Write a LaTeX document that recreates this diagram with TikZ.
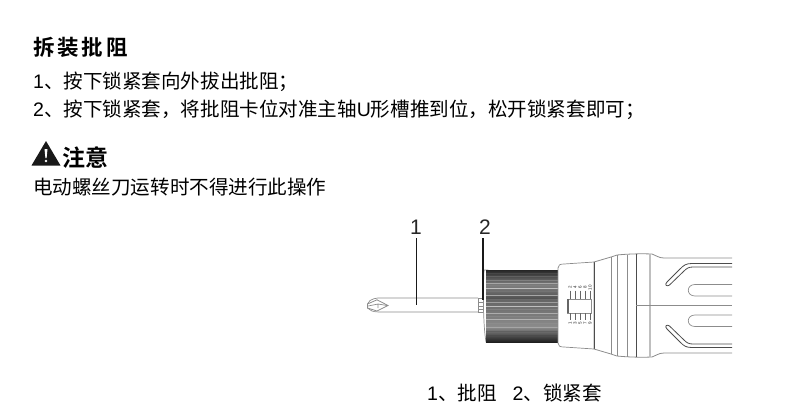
\documentclass[tikz,border=0pt]{standalone}
\usepackage{fontspec}
\setmainfont{Liberation Sans}
\newfontfamily\cjk{Noto Sans CJK SC}
\newfontfamily\cjkb{Noto Sans CJK SC}[BoldFont={Noto Sans CJK SC Bold}]
\newcommand{\ltn}[1]{{\rmfamily #1}}
\begin{document}
\begin{tikzpicture}[x=1pt,y=-1pt,
  body/.style={anchor=west,inner sep=0pt,text=black,font=\fontsize{19.55}{21}\cjk},
  head/.style={anchor=west,inner sep=0pt,text=black,font=\fontsize{21.5}{24}\cjkb\bfseries},
  num/.style={inner sep=0pt,text=black!85,font=\fontsize{21}{23}\selectfont},
  leader/.style={line width=1.7pt,black!90},
  outl/.style={line width=.7pt,black!45},
  dark/.style={line width=.8pt,black!70},
  pale/.style={line width=1.4pt,black!25}]
\useasboundingbox (0,0) rectangle (800,416);
% texts
\node[head] (t1) at (33,47) {拆\hspace{2.8pt}装\hspace{2.8pt}批\hspace{2.8pt}阻};
\node[body] (l1) at (33,82) {\ltn{1}、按下锁紧套向外拔出批阻；};
\node[body] (l2) at (33,110) {\ltn{2}、按下锁紧套，将批阻卡位对准主轴\ltn{U}形槽推到位，松开锁紧套即可；};
\fill[black!90] (46,141) -- (60.5,165.5) -- (31.5,165.5) -- cycle;
\fill[white] (44.5,149) -- (47.5,149) -- (46.6,158) -- (45.4,158) -- cycle;
\fill[white] (46,161) circle (1.4);
\node[head,font=\fontsize{23}{25}\cjkb\bfseries] (t2) at (62.5,158) {注意};
\node[body] (l3) at (33,187) {电动螺丝刀运转时不得进行此操作};
\node[num] (n1) at (416,227) {1};
\node[num] (n2) at (485,227) {2};
\node[body] (cap) at (427,393) {\ltn{1}、批阻\hspace{16pt}\ltn{2}、锁紧套};
% bit
\draw[outl,fill=white] (478,298) -- (385,298) -- (378,298) .. controls (375,298) and (373,299) .. (370,300.5)
  -- (367.5,304) -- (367.5,308) -- (372,311) .. controls (375,312) and (378,312) .. (385,312) -- (478,312);
\draw[outl,line width=.8pt] (367.5,304) -- (377,299.8) -- (388,305.5) -- (377,311) -- (367.5,308);
\draw[outl] (368,306) -- (378,304) -- (387,305.5) (378,304) -- (378,308);
\draw[outl,fill=white] (478,298) rectangle (483,312);
\draw[outl] (478,302) -- (483,302) (478,306) -- (483,306) (478,309) -- (483,309);
\draw[outl,fill=white] (484,270) .. controls (483,290) and (483,325) .. (486,342) -- (488,342) -- (488,270) -- cycle;
% chuck
\begin{scope}
\fill[black!55] (486,270) rectangle (559,342);
\shade[top color=black!85,bottom color=black!50] (486,270) rectangle (559,285);
\shade[top color=black!50,bottom color=black!70] (486,285) rectangle (559,300);
\shade[top color=black!60,bottom color=black!45] (486,300) rectangle (559,327);
\shade[top color=black!45,bottom color=black!88] (486,327) rectangle (559,342);
\foreach \y/\c in {273/72,276/62,280/50,283/35,288/25,291/55,295/35,299/58,302/38,306/25,309/50,313/32,316/48,319/30,323/45,327/35,331/62,335/70}
  \draw[line width=.8pt,black!\c] (486,\y) -- (559,\y);
\end{scope}
% body
\draw[outl,fill=white] (594,262) -- (564,264) .. controls (560,264) and (558,265) .. (558,268) -- (558,343)
  .. controls (558,346) and (560,347) .. (564,347) -- (594,349) -- cycle;
\draw[dark] (594,262) -- (594,349);
\draw[outl,line width=.8pt] (594,262) -- (611,257) -- (617,255) .. controls (627,254) and (640,253.5) .. (652,254)
  .. controls (656,255) and (658,258) .. (664,258) -- (732,258);
\draw[outl,line width=.8pt] (594,349) -- (611,354) -- (617,356) .. controls (627,357) and (640,357.5) .. (652,357)
  .. controls (656,356) and (658,353) .. (664,353) -- (732,353);
\draw[outl] (611,257) -- (611,354) (617,255) -- (617,356) (627,254.5) -- (627,356.5);
\draw[dark] (636,254) -- (636,357);
\draw[pale] (650,254) -- (650,357);
\draw[outl] (636,305.5) -- (732,305.5);
% slots
\draw[dark] (732,263.5) -- (692,263.5) .. controls (686,263.5) and (684,265) .. (680,269) -- (667,282)
  .. controls (664,285) and (667,287) .. (669.5,285) -- (684,271) .. controls (687,268) and (689,267) .. (693,267) -- (732,267);
\draw[outl] (732,284.5) -- (695,284.5) .. controls (686,284.5) and (686,296) .. (695,296) -- (732,296);
\draw[dark] (732,347.5) -- (692,347.5) .. controls (686,347.5) and (684,346) .. (680,342) -- (667,329)
  .. controls (664,326) and (667,324) .. (669.5,326) -- (684,340) .. controls (687,343) and (689,344) .. (693,344) -- (732,344);
\draw[outl] (732,326.5) -- (695,326.5) .. controls (686,326.5) and (686,315) .. (695,315) -- (732,315);
% scale
\draw[outl] (567,299) -- (591,299) -- (591,313) -- (567,313) -- cycle;
\fill[black!60] (566.5,299) rectangle (569,313);
\foreach \x/\t in {570/2,575/4,580/6,585/8,590/10}{
  \draw[black!60,line width=.6pt] (\x,290.5) -- (\x,299);
  \node[rotate=90,inner sep=0pt,text=black!85,font=\fontsize{4.5}{4.5}\selectfont] (top\x) at (\x,287.5) {\t};
}
\foreach \x/\t in {570/1,575/3,580/5,585/7,590/9}{
  \draw[black!60,line width=.6pt] (\x,313) -- (\x,320);
  \node[rotate=90,inner sep=0pt,text=black!85,font=\fontsize{4.5}{4.5}\selectfont] (bot\x) at (\x,323) {\t};
}
% leaders
\coordinate (a1) at (416.5,238); \coordinate (b1) at (416.5,305);
\coordinate (a2) at (483,238); \coordinate (b2) at (483,300);
\draw[leader] (a1) -- (b1);
\draw[leader] (a2) -- (b2);
\end{tikzpicture}
\end{document}
